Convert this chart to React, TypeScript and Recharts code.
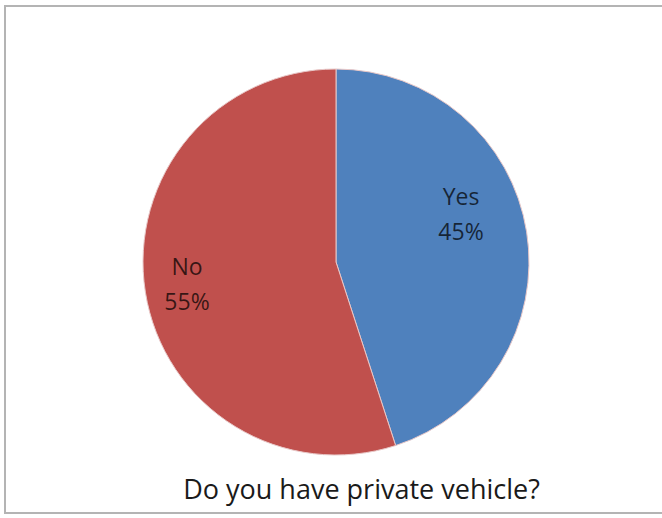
import { PieChart, Pie, Cell } from 'recharts';

const categories = ['Yes', 'No'];
const shares = [45, 55];
const COLORS = ['#4F81BD', '#C0504D'];

// Excel "best fit" puts the labels a little off the slice middles
const LABEL_NUDGE: Record<string, { r: number; da: number }> = {
  Yes: { r: 0.68, da: 8.7 },
  No: { r: 0.787, da: 2.2 },
};

const data = categories.map((name, i) => ({ name, value: shares[i] }));

const RADIAN = Math.PI / 180;

const renderLabel = ({ cx, cy, midAngle, outerRadius, name, percent }: any) => {
  const nudge = LABEL_NUDGE[name] || { r: 0.7, da: 0 };
  const r = outerRadius * nudge.r;
  const a = (midAngle + nudge.da) * RADIAN;
  const x = cx + r * Math.cos(a);
  const y = cy - r * Math.sin(a);
  return (
    <text
      x={x}
      y={y}
      textAnchor="middle"
      fontFamily="'Open Sans', sans-serif"
      fontSize={23}
      fill="#000"
      fillOpacity={0.72}
    >
      <tspan x={x} dy={-17}>{name}</tspan>
      <tspan x={x} dy={35}>{`${Math.round(percent * 100)}%`}</tspan>
    </text>
  );
};

export default function App() {
  return (
    <div style={{ position: 'absolute', left: 0, top: 0, width: 662, height: 518, background: '#fff', overflow: 'hidden' }}>
      {/* chart frame, runs off the right edge in the source */}
      <div
        style={{
          position: 'absolute',
          left: 4,
          top: 5,
          width: 700,
          height: 509,
          border: '2px solid #b4b4b4',
          boxSizing: 'border-box',
        }}
      />
      <PieChart
        width={662}
        height={518}
        margin={{ top: 0, right: 0, bottom: 0, left: 0 }}
        style={{ position: 'absolute', left: 0, top: 0 }}
      >
        <Pie
          data={data}
          dataKey="value"
          nameKey="name"
          cx={336}
          cy={262}
          outerRadius={193}
          startAngle={90}
          endAngle={-270}
          stroke="#e8c8c8"
          strokeWidth={1}
          label={renderLabel}
          labelLine={false}
          isAnimationActive={false}
        >
          {data.map((d, i) => (
            <Cell key={d.name} fill={COLORS[i]} />
          ))}
        </Pie>
      </PieChart>
      <div
        style={{
          position: 'absolute',
          left: 0,
          width: 723,
          top: 470,
          textAlign: 'center',
          fontFamily: "'Open Sans', sans-serif",
          fontSize: 27,
          lineHeight: 'normal',
          color: '#1a1a1a',
          whiteSpace: 'nowrap',
        }}
      >
        Do you have private vehicle?
      </div>
    </div>
  );
}
